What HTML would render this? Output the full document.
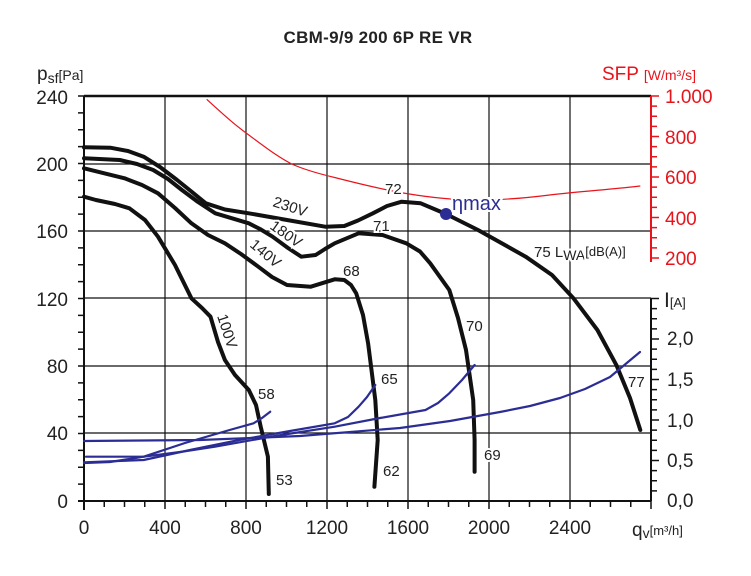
<!DOCTYPE html>
<html><head><meta charset="utf-8"><style>
html,body{margin:0;padding:0;background:#fff}
svg{display:block}
text{font-family:"Liberation Sans Narrow","Liberation Sans",sans-serif}
.t{font-size:19px;fill:#222}
.r{font-size:19px;fill:#e8141c}
.l{font-size:15px;fill:#222;paint-order:stroke;stroke:#fff;stroke-width:4px}
</style></head><body>
<svg width="751" height="576" viewBox="0 0 751 576" xmlns="http://www.w3.org/2000/svg">
<text x="378" y="43" text-anchor="middle" style="font-size:17px;font-weight:bold;font-family:'Liberation Sans',sans-serif;fill:#222;letter-spacing:0.3px">CBM-9/9 200 6P RE VR</text>
<g stroke="#111" stroke-width="1.2">
<line x1="165" y1="96" x2="165" y2="501"/><line x1="246" y1="96" x2="246" y2="501"/><line x1="327" y1="96" x2="327" y2="501"/><line x1="408" y1="96" x2="408" y2="501"/><line x1="489" y1="96" x2="489" y2="501"/><line x1="570" y1="96" x2="570" y2="501"/>
<line x1="84" y1="164" x2="651" y2="164"/><line x1="84" y1="231" x2="651" y2="231"/><line x1="84" y1="298" x2="651" y2="298"/><line x1="84" y1="366" x2="651" y2="366"/><line x1="84" y1="433" x2="651" y2="433"/>
</g>
<line x1="84" y1="96" x2="651" y2="96" stroke="#111" stroke-width="2.5"/>
<g stroke="#111" stroke-width="2">
<line x1="84" y1="96" x2="84" y2="510"/><line x1="78" y1="501" x2="651" y2="501"/>
<line x1="651" y1="298" x2="651" y2="501"/>
</g>
<path stroke="#111" stroke-width="1.5" fill="none" d="M78 484.1H84M78 467.3H84M78 450.4H84M78 433.5H84M78 416.6H84M78 399.8H84M78 382.9H84M78 366H84M78 349.1H84M78 332.3H84M78 315.4H84M78 298.5H84M78 281.6H84M78 264.8H84M78 247.9H84M78 231H84M78 214.1H84M78 197.3H84M78 180.4H84M78 163.5H84M78 146.6H84M78 129.8H84M78 112.9H84M78 96H84
M104.25 501V507M124.5 501V507M144.75 501V507M165 501V509M185.25 501V507M205.5 501V507M225.75 501V507M246 501V509M266.25 501V507M286.5 501V507M306.75 501V507M327 501V509M347.25 501V507M367.5 501V507M387.75 501V507M408 501V509M428.25 501V507M448.5 501V507M468.75 501V507M489 501V509M509.25 501V507M529.5 501V507M549.75 501V507M570 501V509M590.25 501V507M610.5 501V507M630.75 501V507M651 501V509
M651 490.9H657M651 480.8H657M651 470.6H657M651 460.5H659M651 450.4H657M651 440.3H657M651 430.1H657M651 420H659M651 409.9H657M651 399.8H657M651 389.6H657M651 379.5H659M651 369.4H657M651 359.3H657M651 349.1H657M651 339H659M651 328.9H657M651 318.8H657M651 308.6H657M651 298.5H659"/>
<line x1="651" y1="96" x2="651" y2="262" stroke="#e8141c" stroke-width="2"/>
<path stroke="#e8141c" stroke-width="1.5" fill="none" d="M651 96H659M651 106.1H657M651 116.3H657M651 126.4H657M651 136.5H659M651 146.6H657M651 156.8H657M651 166.9H657M651 177H659M651 187.1H657M651 197.3H657M651 207.4H657M651 217.5H659M651 227.6H657M651 237.8H657M651 247.9H657M651 258H659"/>
<path fill="none" stroke="#e8141c" stroke-width="1.2" d="M206.7,99.3 C225,116 235,125 248.8,135 C265,147 278,157 291.7,164 C305,170 320,174 334.7,177.5 C360,184 385,190 406.3,193.5 C430,197.5 455,200 478,200 C505,200 530,197.5 549.6,195 C580,191.5 615,189 640.3,186"/>
<g fill="none" stroke="#111" stroke-width="4" stroke-linecap="round" stroke-linejoin="round">
<polyline points="84,147.3 110.3,147.7 128,151 143.7,156.7 160,167 177.1,180 192,192 205.8,203.3 225,209.5 248.8,213.3 287,220 325.2,226.7 344.3,226 358,220.5 372.9,213.3 387,206 401.6,201.7 420.7,203.3 446,214 478,230 525.7,256.7 552,275 573.5,298.3 597.4,330 616.5,365.3 630,398 640.3,430"/>
<polyline points="84,158.3 119.8,160 137,164 153.2,170 168,179 181.9,190 198,202 215.3,213.3 248.8,223.3 260,229 272.6,236.7 288,248 301.3,256.7 315.6,255 325,249 334.7,243.3 358.6,233.3 382.5,235 406.3,243.3 420,251.5 430.2,263.3 449.3,290 458,318 466,350 473.2,400 474.6,440 474.6,471.7"/>
<polyline points="84,168.3 124.6,178.3 142,185 158,193.3 175,208 191.4,223.3 208,235 224.9,243.3 241,254 258.3,266.7 272,277 287,285 310.8,286.7 334.7,279.3 344.3,280 351,285 356.2,293.3 363,315 368.1,343.3 375.3,400 377.7,440 374.4,486.7"/>
<polyline points="84,196.7 95.9,200 115,204 129.4,208.3 145,220 158,236.7 175,265 191.4,298.3 202,308 210.5,316.7 218,342 224.9,360 235,375 248.8,390 256,405 260.7,426.7 267.9,456.7 268.8,494"/>
</g>
<g fill="none" stroke="#2b2d94" stroke-width="2.2" stroke-linecap="round" stroke-linejoin="round">
<polyline points="84,441 200,440 300,436 400,428 450,421 500,412 530,406 560,398 585,389 610,377 640,352"/>
<polyline points="86,456.7 143.7,456.7 180,452 215,446.7 275,436 334.7,426.7 380,418 425.5,410 438,403 449.3,393.3 462,380 474.6,365"/>
<polyline points="84,462.3 143.7,460 190,450 239.2,440 290,431 334.7,423.3 348,417 358.6,406.7 367,397 375.3,385"/>
<polyline points="84,463 110,462 143.7,456.7 185,443 229.6,430 253.5,423.3 262,418 270.2,411.7"/>
</g>
<circle cx="446" cy="214" r="6" fill="#2b2d94"/>
<text x="452" y="210" style="font-size:20px;fill:#2b2d94;paint-order:stroke;stroke:#fff;stroke-width:4px;font-family:'Liberation Sans',sans-serif">ηmax</text>
<g class="l">
<text x="385" y="194" class="l">72</text>
<text x="373" y="231" class="l">71</text>
<text x="343" y="276" class="l">68</text>
<text x="466" y="331" class="l">70</text>
<text x="381" y="384" class="l">65</text>
<text x="258" y="399" class="l">58</text>
<text x="276" y="485" class="l">53</text>
<text x="383" y="476" class="l">62</text>
<text x="484" y="460" class="l">69</text>
<text x="628" y="387" class="l">77</text>
<text x="534" y="257" class="l">75 L<tspan font-size="14" dy="3">WA</tspan><tspan font-size="13" dy="-4">[dB(A)]</tspan></text>
<text class="l" transform="translate(272,206) rotate(18)">230V</text>
<text class="l" transform="translate(269,228) rotate(35)">180V</text>
<text class="l" transform="translate(249,246) rotate(40)">140V</text>
<text class="l" transform="translate(217,316) rotate(72)">100V</text>
</g>
<g class="t" text-anchor="end">
<text x="68" y="104">240</text><text x="68" y="171">200</text><text x="68" y="238">160</text><text x="68" y="306">120</text><text x="68" y="373">80</text><text x="68" y="440">40</text><text x="68" y="508">0</text>
</g>
<text x="37" y="80" class="t">p<tspan font-size="14" dy="3">sf</tspan><tspan font-size="14" dy="-3">[Pa]</tspan></text>
<g class="t" text-anchor="middle">
<text x="84" y="534">0</text><text x="165" y="534">400</text><text x="246" y="534">800</text><text x="327" y="534">1200</text><text x="408" y="534">1600</text><text x="489" y="534">2000</text><text x="570" y="534">2400</text>
</g>
<text x="632" y="536" class="t">q<tspan font-size="14" dy="2">v</tspan><tspan font-size="13" dy="-3">[m³/h]</tspan></text>
<g class="r">
<text x="665" y="103">1.000</text><text x="665" y="144">800</text><text x="665" y="184">600</text><text x="665" y="225">400</text><text x="665" y="265">200</text>
</g>
<text x="602" y="80" class="r">SFP <tspan font-size="14">[W/m³/s]</tspan></text>
<g class="t">
<text x="664" y="307" style="font-size:21px">I<tspan font-size="13">[A]</tspan></text>
<text x="667" y="345">2,0</text><text x="667" y="386">1,5</text><text x="667" y="427">1,0</text><text x="667" y="467">0,5</text><text x="667" y="507">0,0</text>
</g>
</svg>
</body></html>
